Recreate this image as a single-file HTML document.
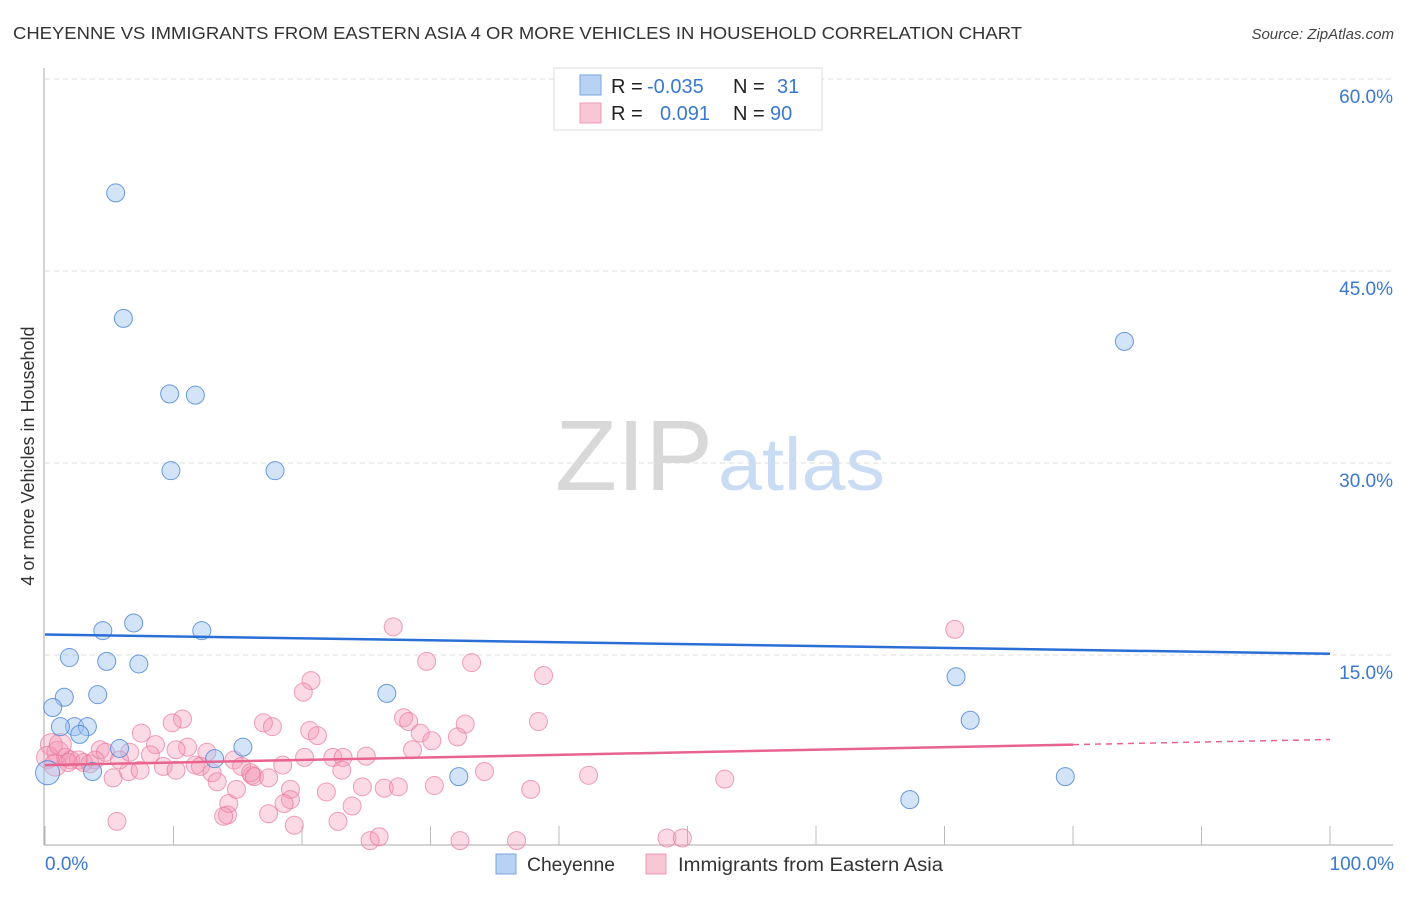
<!DOCTYPE html>
<html><head><meta charset="utf-8"><style>
body{margin:0;background:#fff;font-family:"Liberation Sans",sans-serif;}
svg text{font-family:"Liberation Sans",sans-serif;}
</style></head><body>
<svg id="chart" width="1406" height="892" viewBox="0 0 1406 892">
<text x="13" y="39" font-size="17.5" fill="#333" textLength="1009" lengthAdjust="spacingAndGlyphs">CHEYENNE VS IMMIGRANTS FROM EASTERN ASIA 4 OR MORE VEHICLES IN HOUSEHOLD CORRELATION CHART</text>
<text x="1394" y="39" font-size="15" fill="#444" font-style="italic" text-anchor="end">Source: ZipAtlas.com</text>
<g><text x="555" y="490" font-size="100" fill="#d8d8d8" font-family="Liberation Serif" textLength="158" lengthAdjust="spacingAndGlyphs">ZIP</text><text x="718" y="490" font-size="74" fill="#c9dcf3" textLength="167" lengthAdjust="spacingAndGlyphs">atlas</text></g>
<g id="grid"></g><g id="axes"></g><g id="marks"></g>
<text transform="translate(34,456) rotate(-90)" font-size="18" fill="#333" text-anchor="middle">4 or more Vehicles in Household</text>
<text x="45" y="870" font-size="19" fill="#3b78d0">0.0%</text>
<text x="1394" y="870" font-size="19" fill="#3b78d0" text-anchor="end">100.0%</text>
<g>
<rect x="554" y="68" width="268" height="62" fill="#fff" stroke="#ddd"/>
<rect x="580" y="75" width="21" height="20" fill="#b8d2f3" stroke="#7aa7e0"/>
<rect x="580" y="103" width="21" height="20" fill="#f9c6d5" stroke="#ee9bb4"/>
<text x="611" y="93" font-size="20" fill="#222">R = <tspan x="647" fill="#3b78d0">-0.035</tspan><tspan x="733">N = </tspan><tspan x="777" fill="#3b78d0">31</tspan></text>
<text x="611" y="120" font-size="20" fill="#222">R = <tspan x="660" fill="#3b78d0">0.091</tspan><tspan x="733">N = </tspan><tspan x="770" fill="#3b78d0">90</tspan></text>
</g>
<g>
<rect x="496" y="854" width="20" height="20" fill="#b8d2f3" stroke="#7aa7e0"/>
<text x="527" y="871" font-size="19" fill="#333" textLength="88" lengthAdjust="spacingAndGlyphs">Cheyenne</text>
<rect x="646" y="854" width="20" height="20" fill="#f9c6d5" stroke="#ee9bb4"/>
<text x="678" y="871" font-size="19" fill="#333" textLength="265" lengthAdjust="spacingAndGlyphs">Immigrants from Eastern Asia</text>
</g>
</svg>
<script>
const yTicks=[15,30,45,60];
const yTickLabels=["15.0%","30.0%","45.0%","60.0%"];
const xTicks=[0,10,20,30,40,50,60,70,80,90,100];
const blueX=[5.5,6.1,9.7,11.7,9.8,17.9,84.0,4.5,6.9,12.2,1.9,4.8,7.3,1.5,4.1,26.6,70.9,0.6,2.3,3.3,2.7,5.8,15.4,13.2,3.7,0.2,32.2,72.0,79.4,67.3,1.2];
const blueY=[51.1,41.3,35.4,35.3,29.4,29.4,39.5,16.9,17.5,16.9,14.8,14.5,14.3,11.7,11.9,12.0,13.3,10.9,9.4,9.4,8.8,7.7,7.8,6.9,5.9,5.8,5.5,9.9,5.5,3.7,9.4];
const pinkX=[27.1,70.8,29.7,33.2,38.8,20.7,20.1,27.9,28.3,32.7,38.4,10.7,9.9,17.0,17.7,20.6,21.2,7.5,29.2,30.1,32.1,28.6,8.6,11.1,12.6,10.2,14.7,4.3,4.7,6.6,8.2,9.2,11.7,12.1,13.0,15.3,16.1,18.5,22.4,23.2,25.0,23.1,6.5,5.3,13.4,16.0,16.3,14.3,20.2,34.2,42.3,52.9,24.7,26.4,27.5,30.3,37.8,19.1,14.9,21.9,19.1,18.6,23.9,14.2,17.4,13.9,22.8,19.4,5.6,25.3,26.0,32.3,36.7,48.4,49.6,0.5,1.0,1.6,2.0,2.6,3.0,3.5,3.9,0.2,0.8,1.2,1.8,5.8,7.4,10.2,17.4];
const pinkY=[17.2,17.0,14.5,14.4,13.4,13.0,12.1,10.1,9.8,9.6,9.8,10.0,9.7,9.7,9.4,9.1,8.7,8.9,8.9,8.3,8.6,7.6,8.0,7.8,7.4,7.6,6.8,7.6,7.4,7.4,7.2,6.3,6.4,6.3,5.8,6.3,5.6,6.4,7.0,7.0,7.1,6.0,5.9,5.4,5.1,5.8,5.5,3.4,7.0,5.9,5.6,5.3,4.7,4.6,4.7,4.8,4.5,4.5,4.5,4.3,3.7,3.4,3.2,2.5,2.6,2.4,2.0,1.7,2.0,0.5,0.8,0.5,0.5,0.7,0.7,8.0,7.4,7.0,6.8,6.8,6.6,6.5,6.8,7.0,6.4,8.0,6.6,6.8,6.0,6.0,5.4];
const blueTrend=[16.6,15.1];
const pinkTrend=[6.4,8.4];
const pinkSolidEnd=80;
const X=v=>45+v*12.85, Y=v=>847-v*12.8;
const NS="http://www.w3.org/2000/svg";
function mk(p,t,a){const e=document.createElementNS(NS,t);for(const k in a)e.setAttribute(k,a[k]);p.appendChild(e);return e;}
const grid=document.getElementById('grid'),axes=document.getElementById('axes'),marks=document.getElementById('marks');
yTicks.forEach((t,i)=>{
 const l=mk(grid,'line',{x1:45,x2:1393,y1:Y(t),y2:Y(t),stroke:'#ddd','stroke-dasharray':'5,4'});
 
 
 const tx=mk(axes,'text',{x:1393,y:Y(t)+24,'font-size':19,fill:'#3b78d0','text-anchor':'end'});
 tx.textContent=yTickLabels[i];
 
 
});
const ya=mk(axes,'line',{x1:44,x2:44,y1:68,y2:845,stroke:'#aaa'});


const xa=mk(axes,'line',{x1:44,x2:1393,y1:845,y2:845,stroke:'#aaa'});


xTicks.forEach(t=>{
 const l=mk(axes,'line',{x1:X(t),x2:X(t),y1:826,y2:845,stroke:'#bbb'});
 
 
});
pinkX.forEach((x,i)=>{
 const c=mk(marks,'circle',{cx:X(x),cy:Y(pinkY[i]),r:x<1.5?11:9,fill:'rgba(244,150,180,0.35)',stroke:'rgba(232,120,155,0.7)','stroke-width':1});
 
 
});
blueX.forEach((x,i)=>{
 const c=mk(marks,'circle',{cx:X(x),cy:Y(blueY[i]),r:x<0.5?12:9,fill:'rgba(160,196,240,0.45)',stroke:'rgba(70,130,215,0.8)','stroke-width':1});
 
 
});
const bt=mk(marks,'line',{x1:X(0),x2:X(100),y1:Y(blueTrend[0]),y2:Y(blueTrend[1]),stroke:'#2a6fd6','stroke-width':2.5});


const pm=pinkTrend[0]+(pinkTrend[1]-pinkTrend[0])*pinkSolidEnd/100;
const pt=mk(marks,'line',{x1:X(0),x2:X(pinkSolidEnd),y1:Y(pinkTrend[0]),y2:Y(pm),stroke:'#e8648e','stroke-width':2.5});


const pd=mk(marks,'line',{x1:X(pinkSolidEnd),x2:X(100),y1:Y(pm),y2:Y(pinkTrend[1]),stroke:'#e8648e','stroke-width':1.5,'stroke-dasharray':'6,5'});


</script>
</body></html>
